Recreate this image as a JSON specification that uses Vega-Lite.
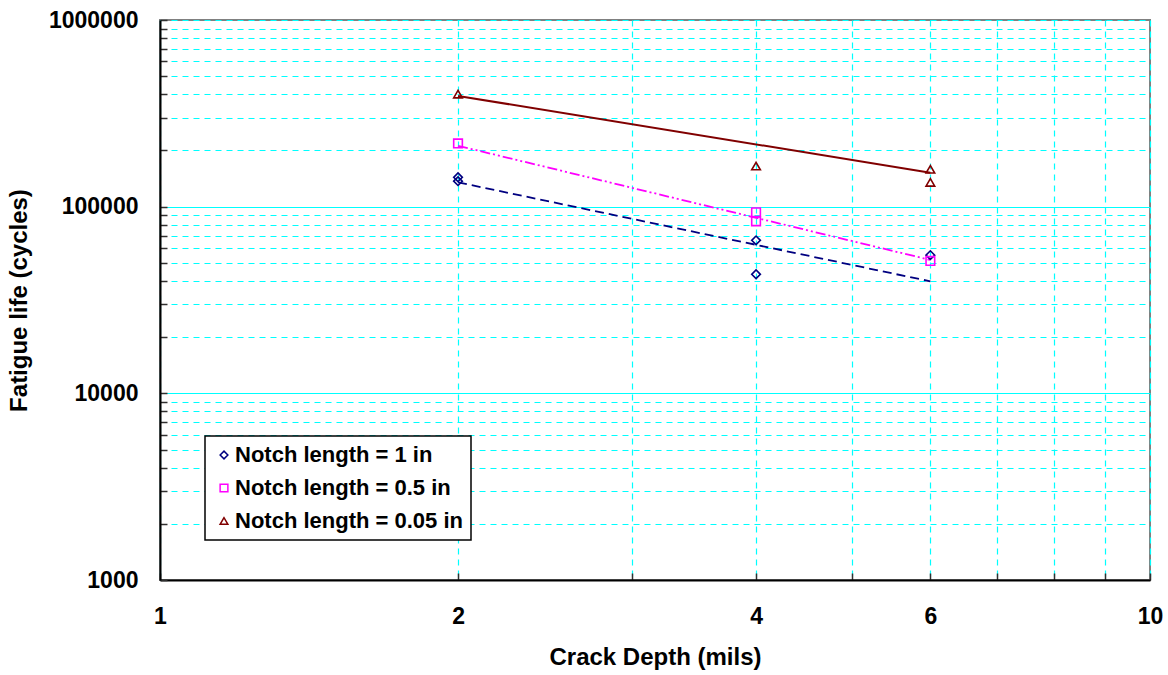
{
  "$schema": "https://vega.github.io/schema/vega-lite/v6.json",
  "autosize": "none",
  "width": 990,
  "height": 560,
  "padding": {"left": 160, "top": 20, "right": 18, "bottom": 95},
  "background": "white",
  "config": {
    "view": {"stroke": "#808080", "strokeWidth": 2},
    "font": "Liberation Sans",
    "axis": {
      "labelFont": "Liberation Sans",
      "labelFontWeight": "bold",
      "labelFontSize": 23,
      "labelColor": "black",
      "titleFont": "Liberation Sans",
      "titleFontWeight": "bold",
      "titleFontSize": 24,
      "titleColor": "black",
      "domainColor": "black",
      "domainWidth": 2,
      "tickColor": "#303030",
      "tickWidth": 1.5,
      "tickSize": -7,
      "gridColor": "#00FFFF",
      "gridWidth": 1.2,
      "gridOpacity": 1
    },
    "legend": {
      "labelFont": "Liberation Sans",
      "labelFontWeight": "bold",
      "labelFontSize": 22,
      "labelColor": "black",
      "labelLimit": 400,
      "strokeColor": "black",
      "strokeWidth": 1.5,
      "fillColor": "white",
      "padding": 8,
      "rowPadding": 11,
      "symbolSize": 60,
      "symbolStrokeWidth": 1.5,
      "labelOffset": 0
    }
  },
  "data": {
    "values": [
      {"kind": "data", "notch": "Notch length = 1 in", "depth": 2, "life": 143600},
      {"kind": "data", "notch": "Notch length = 1 in", "depth": 2, "life": 137000},
      {"kind": "data", "notch": "Notch length = 1 in", "depth": 4, "life": 66000},
      {"kind": "data", "notch": "Notch length = 1 in", "depth": 4, "life": 43400},
      {"kind": "data", "notch": "Notch length = 1 in", "depth": 6, "life": 55000},
      {"kind": "data", "notch": "Notch length = 0.5 in", "depth": 2, "life": 218000},
      {"kind": "data", "notch": "Notch length = 0.5 in", "depth": 4, "life": 93300},
      {"kind": "data", "notch": "Notch length = 0.5 in", "depth": 4, "life": 83500},
      {"kind": "data", "notch": "Notch length = 0.5 in", "depth": 6, "life": 51200},
      {"kind": "data", "notch": "Notch length = 0.05 in", "depth": 2, "life": 401000},
      {"kind": "data", "notch": "Notch length = 0.05 in", "depth": 4, "life": 165000},
      {"kind": "data", "notch": "Notch length = 0.05 in", "depth": 6, "life": 158600},
      {"kind": "data", "notch": "Notch length = 0.05 in", "depth": 6, "life": 135000},
      {"kind": "fit", "notch": "Notch length = 1 in", "depth": 2, "life": 135000},
      {"kind": "fit", "notch": "Notch length = 1 in", "depth": 6, "life": 39800},
      {"kind": "fit", "notch": "Notch length = 0.5 in", "depth": 2, "life": 212000},
      {"kind": "fit", "notch": "Notch length = 0.5 in", "depth": 6, "life": 51800},
      {"kind": "fit", "notch": "Notch length = 0.05 in", "depth": 2, "life": 392000},
      {"kind": "fit", "notch": "Notch length = 0.05 in", "depth": 6, "life": 152000}
    ]
  },
  "encoding": {
    "x": {
      "field": "depth",
      "type": "quantitative",
      "scale": {"type": "log", "domain": [1, 10], "nice": false},
      "axis": {
        "title": "Crack Depth (mils)",
        "values": [1, 2, 3, 4, 5, 6, 7, 8, 9, 10],
        "labelExpr": "indexof([1,2,4,6,10], datum.value) >= 0 ? format(datum.value, 'd') : ''",
        "labelPadding": 32,
        "titlePadding": 17,
        "gridDash": [6, 5],
        "labelFlush": false
      }
    },
    "y": {
      "field": "life",
      "type": "quantitative",
      "scale": {"type": "log", "domain": [1000, 1000000], "nice": false},
      "axis": {
        "title": "Fatigue life (cycles)",
        "values": [1000, 2000, 3000, 4000, 5000, 6000, 7000, 8000, 9000, 10000, 20000, 30000, 40000, 50000, 60000, 70000, 80000, 90000, 100000, 200000, 300000, 400000, 500000, 600000, 700000, 800000, 900000, 1000000],
        "labelExpr": "indexof([1000,10000,100000,1000000], datum.value) >= 0 ? format(datum.value, 'd') : ''",
        "labelPadding": 29,
        "titlePadding": 17,
        "gridDash": {"condition": {"test": "datum.value == 10000 || datum.value == 100000", "value": []}, "value": [6, 5]},
        "labelFlush": false
      }
    }
  },
  "layer": [
    {
      "transform": [{"filter": "datum.kind == 'fit' && datum.notch == 'Notch length = 1 in'"}],
      "mark": {"type": "line", "color": "#000080", "strokeWidth": 1.8, "strokeDash": [9, 5]},
      "encoding": {}
    },
    {
      "transform": [{"filter": "datum.kind == 'fit' && datum.notch == 'Notch length = 0.5 in'"}],
      "mark": {"type": "line", "color": "#FF00FF", "strokeWidth": 1.8, "strokeDash": [10, 3, 2, 3, 2, 3]},
      "encoding": {}
    },
    {
      "transform": [{"filter": "datum.kind == 'fit' && datum.notch == 'Notch length = 0.05 in'"}],
      "mark": {"type": "line", "color": "#800000", "strokeWidth": 2},
      "encoding": {}
    },
    {
      "transform": [{"filter": "datum.kind == 'data'"}],
      "mark": {"type": "point", "filled": false, "strokeWidth": 1.6, "size": 75, "opacity": 1},
      "encoding": {
        "color": {
          "field": "notch",
          "type": "nominal",
          "scale": {"domain": ["Notch length = 1 in", "Notch length = 0.5 in", "Notch length = 0.05 in"], "range": ["#000080", "#FF00FF", "#800000"]},
          "legend": {"title": null, "orient": "none", "legendX": 45, "legendY": 416}
        },
        "shape": {
          "field": "notch",
          "type": "nominal",
          "scale": {"domain": ["Notch length = 1 in", "Notch length = 0.5 in", "Notch length = 0.05 in"], "range": ["diamond", "square", "triangle-up"]},
          "legend": {"title": null, "orient": "none", "legendX": 45, "legendY": 416}
        }
      }
    }
  ]
}
